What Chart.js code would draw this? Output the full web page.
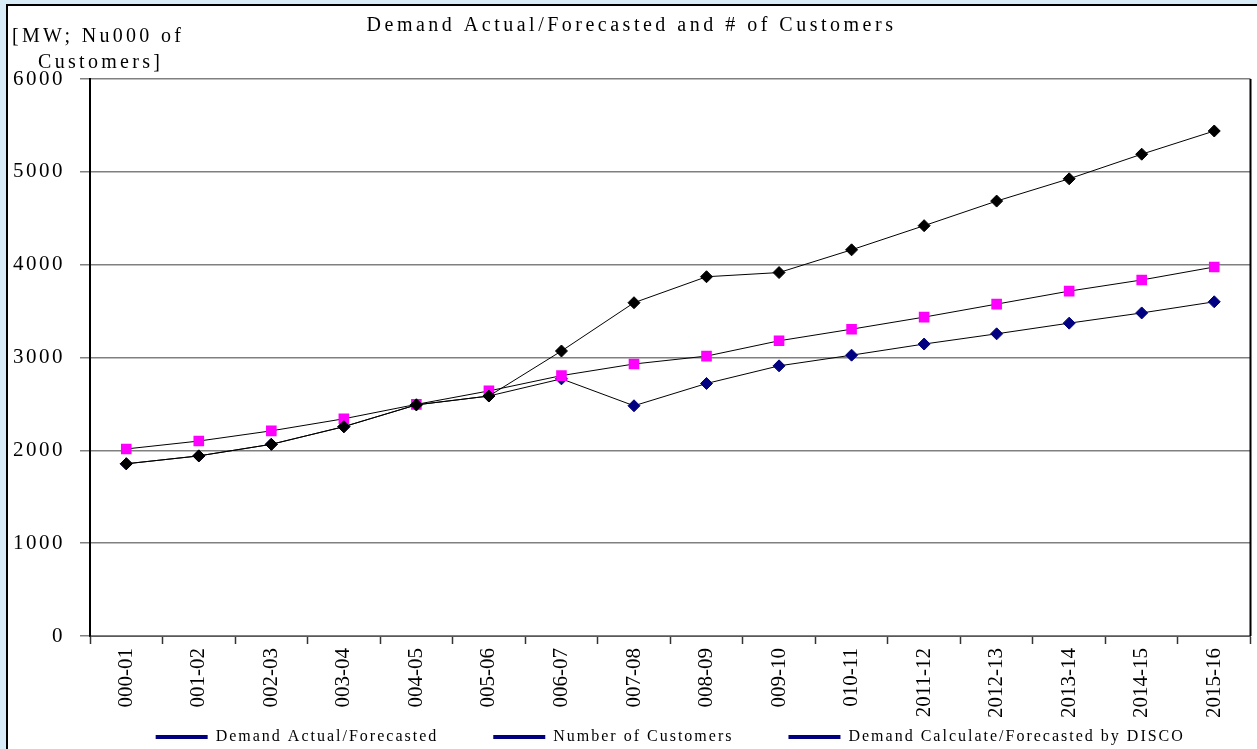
<!DOCTYPE html>
<html>
<head>
<meta charset="utf-8">
<script src="https://cdn.jsdelivr.net/npm/chart.js@4/dist/chart.umd.min.js"></script>
<style>
  html, body { margin: 0; padding: 0; overflow: hidden; background: #d8ecf8; }
  #panel {
    position: absolute; left: 6px; top: 4px;
    width: 1300px; height: 800px;
    border-left: 2px solid #000; border-top: 2px solid #000;
    background: #fff;
  }
  #demandChart { display: block; }
</style>
</head>
<body>
<div id="panel">
  <canvas id="demandChart" width="1250" height="756"></canvas>
</div>
<script>
const years = ['000-01', '001-02', '002-03', '003-04', '004-05', '005-06', '006-07', '007-08',
  '008-09', '009-10', '010-11', '2011-12', '2012-13', '2013-14', '2014-15', '2015-16'];
const demandActual = [1855, 1940, 2065, 2255, 2490, 2585, 2770, 2480, 2720, 2910, 3025, 3145, 3255, 3370, 3480, 3600];
const customers = [2015, 2100, 2210, 2340, 2495, 2640, 2805, 2930, 3015, 3180, 3305, 3435, 3575, 3715, 3835, 3975];
const discoDemand = [1855, 1940, 2065, 2255, 2490, 2585, 3070, 3590, 3870, 3915, 4160, 4420, 4685, 4925, 5190, 5440];
const yTicks = [0, 1000, 2000, 3000, 4000, 5000, 6000];

const serif = '"Liberation Serif", "Times New Roman", serif';

// unit label in the top left corner + right frame edge
const frameAndUnits = {
  id: 'frameAndUnits',
  afterDraw(chart) {
    const { ctx, chartArea } = chart;
    ctx.save();
    ctx.strokeStyle = '#000';
    ctx.lineWidth = 2;
    ctx.beginPath();
    ctx.moveTo(chartArea.right, chartArea.top);
    ctx.lineTo(chartArea.right, chartArea.bottom);
    ctx.stroke();

    ctx.letterSpacing = '3.3px';
    ctx.fillStyle = '#000';
    ctx.font = '20px ' + serif;
    ctx.textBaseline = 'middle';
    ctx.textAlign = 'left';
    ctx.fillText('[MW; Nu000 of', 4, 31);
    ctx.fillText('Customers]', 30, 57);
    ctx.restore();
  }
};

function diamondSet(label, data, color, order) {
  return {
    label, data, order,
    borderColor: '#000',
    borderWidth: 1,
    pointStyle: 'rectRot',
    pointRadius: 6,
    pointBackgroundColor: color,
    pointBorderColor: color,
    pointBorderWidth: 1,
    tension: 0,
    fill: false
  };
}

const chart = new Chart(document.getElementById('demandChart'), {
  type: 'line',
  data: {
    labels: years,
    datasets: [
      diamondSet('Demand Actual/Forecasted', demandActual, '#000080', 2),
      {
        label: 'Number of Customers',
        data: customers,
        order: 1,
        borderColor: '#000',
        borderWidth: 1,
        pointStyle: 'rect',
        pointRadius: 7.5,
        pointBackgroundColor: '#ff00ff',
        pointBorderColor: '#ff00ff',
        pointBorderWidth: 0,
        tension: 0,
        fill: false
      },
      diamondSet('Demand Calculate/Forecasted by DISCO', discoDemand, '#000', 0)
    ]
  },
  options: {
    responsive: false,
    animation: false,
    devicePixelRatio: 1,
    layout: { padding: { left: 0, right: 3, top: 0, bottom: 7 } },
    plugins: {
      title: {
        display: true,
        text: 'Demand Actual/Forecasted and # of Customers',
        color: '#000',
        font: { family: serif, size: 20, weight: 'normal', lineHeight: 1.2 },
        padding: { top: 8, bottom: 41 }
      },
      legend: {
        position: 'bottom',
        fullSize: false,
        labels: {
          color: '#000',
          font: { family: serif, size: 16 },
          boxWidth: 52,
          boxHeight: 4,
          padding: 55,
          generateLabels(c) {
            return c.data.datasets.map((ds, i) => ({
              text: ds.label,
              fillStyle: '#000080',
              strokeStyle: '#000080',
              lineWidth: 0,
              hidden: false,
              datasetIndex: i
            }));
          }
        }
      },
      tooltip: { enabled: false }
    },
    scales: {
      x: {
        offset: true,
        grid: {
          offset: true,
          drawOnChartArea: false,
          drawTicks: true,
          tickLength: 8,
          tickColor: '#333',
          tickWidth: 1.5
        },
        border: { color: '#333', width: 2 },
        ticks: {
          autoSkip: false,
          minRotation: 90,
          maxRotation: 90,
          padding: 4,
          color: '#000',
          font: { family: serif, size: 21 }
        },
        afterFit(scale) { scale.height = 38; }
      },
      y: {
        min: 0,
        max: 6000,
        afterBuildTicks(scale) { scale.ticks = yTicks.map(v => ({ value: v })); },
        grid: {
          color: '#808080',
          lineWidth: 1.5,
          tickLength: 10,
          tickColor: '#808080'
        },
        border: { color: '#000', width: 2 },
        ticks: {
          padding: 15,
          color: '#000',
          font: { family: serif, size: 21 },
          callback: v => String(v)
        },
        afterFit(scale) { scale.width = 82; }
      }
    }
  },
  plugins: [frameAndUnits]
});

// the source picture is stretched sideways, so horizontal text gets extra letter spacing
function withSpacing(box, spacing) {
  ['fit', 'update', 'draw'].forEach(name => {
    if (typeof box[name] !== 'function') return;
    const orig = box[name].bind(box);
    box[name] = function (...args) {
      const ctx = box.ctx;
      const prev = ctx.letterSpacing;
      ctx.letterSpacing = spacing;
      const r = orig(...args);
      ctx.letterSpacing = prev;
      return r;
    };
  });
}
withSpacing(chart.titleBlock, '3.5px');
withSpacing(chart.legend, '2px');
withSpacing(chart.scales.y, '2.5px');
withSpacing(chart.scales.x, '0px');
// the rotated year labels run down past the short axis box; don't clip them
chart.scales.x._computeLabelArea = () => undefined;
chart.update();
</script>
</body>
</html>
